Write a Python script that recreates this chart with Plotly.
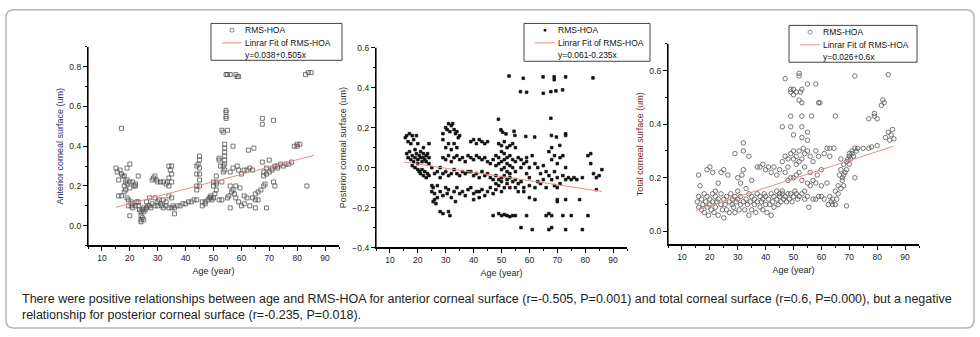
import plotly.graph_objects as go

# ---------------- data ----------------
ant_age = [15,15.5,16,16,16.5,17,17,17.5,18,18,18,18.5,18.5,19,19,19,19,19.5,19.5,20,20,20,20,20.5,20.5,21,21,21,21.5,22,22,22.5,22,23,23,23,23.5,24,24,24,24,24.5,24.5,25,25,25,25.5,26,26,26.5,27,27,27.5,28,28,28.5,29,29,29,29.5,30,30,30,30.5,31,31,31.5,32,32,32,33,33,33,33.5,34,34,34,34,34,34.5,35,35,35,35,35,35.5,36,36,37,38,39,40,41,42,43,44,44,44,44,44,44.5,45,45,45,45,45,45,46,46,47,47,48,48.5,49,49,49.5,50,50,50,50.5,51,51,51,51,52,52,52,52.5,53,53,53,53.5,53.5,53.5,54,54,54,54,54,54,54,54.5,54.5,54.5,54.5,54.5,55,55,55,55.5,56,56,56,56,56.5,57,57,57,57.5,58,58,58,58.5,58.5,59,59,59,59.5,60,60,61,61,61,62,62,62.5,63,63,64,64,64.5,65,65,65,66,66,67,67.5,67.5,67.5,68,68,68,68.5,69,69,69,70,70,71,71,71.5,71.5,72,72,73,73,74,75,76,77,78,79,80,80,81,83,84,85,83.5,17]
ant_val = [0.29,0.27,0.23,0.15,0.28,0.26,0.15,0.25,0.25,0.2,0.17,0.22,0.18,0.29,0.23,0.21,0.14,0.1,0.13,0.31,0.22,0.19,0.05,0.12,0.1,0.22,0.11,0.09,0.2,0.21,0.1,0.12,0.2,0.25,0.12,0.1,0.08,0.07,0.05,0.03,0.02,0.08,0.04,0.09,0.07,0.03,0.08,0.09,0.12,0.1,0.1,0.14,0.09,0.23,0.11,0.24,0.25,0.1,0.14,0.23,0.22,0.12,0.1,0.13,0.22,0.11,0.1,0.22,0.13,0.09,0.21,0.12,0.1,0.22,0.3,0.24,0.2,0.15,0.09,0.28,0.3,0.26,0.22,0.14,0.09,0.1,0.06,0.09,0.1,0.1,0.11,0.11,0.12,0.12,0.13,0.13,0.3,0.26,0.2,0.18,0.31,0.35,0.33,0.29,0.26,0.23,0.2,0.1,0.12,0.12,0.11,0.13,0.14,0.14,0.15,0.13,0.14,0.2,0.22,0.16,0.18,0.22,0.25,0.21,0.13,0.33,0.34,0.3,0.48,0.22,0.13,0.47,0.3,0.27,0.41,0.39,0.37,0.35,0.33,0.31,0.28,0.58,0.57,0.55,0.54,0.76,0.76,0.48,0.14,0.15,0.76,0.27,0.09,0.2,0.17,0.4,0.29,0.18,0.16,0.76,0.2,0.14,0.75,0.3,0.75,0.28,0.12,0.19,0.1,0.26,0.11,0.28,0.15,0.28,0.14,0.38,0.29,0.1,0.28,0.14,0.39,0.09,0.13,0.16,0.13,0.17,0.18,0.54,0.51,0.32,0.27,0.2,0.25,0.21,0.26,0.09,0.29,0.27,0.33,0.28,0.29,0.53,0.22,0.2,0.3,0.29,0.3,0.31,0.3,0.31,0.31,0.32,0.4,0.4,0.41,0.41,0.76,0.77,0.77,0.2,0.49]

post_age = [52.7,57.8,64.9,68.9,68.9,73,82.8,56.8,59,65,67.7,69.5,71.9,48.9,67.7,49.8,50.4,51.6,54.5,54.8,58.7,61.9,67.9,69.7,73,73,70.9,
15.5,16,16.5,17,17.5,18,18.5,19.5,20,16,16.5,17,17.5,18,18.5,19,19,19.5,20,20,20.5,21,21,21.5,22,22,22.5,23,23,23.5,24,24,20,20.5,21,21.5,22,22.5,23,23.5,24,25,25,25.5,26,26,26.5,25.5,27,27,24,22,18,19,25,26,27,28,28,29,30,31,32,33,34,35,36,37,38,29,29,30,30.5,31,31.5,32,32.5,33,33.5,34,34.5,35,30,31,32,33,34,29,30,31,32,33,34,35,36,37,28,29,30,30.5,31,32,33,33.5,34,35,36,37,38,28,29,31,31.5,
39,40,41,42,43,44,45,38,39,40,41,42,43,44,45,39,40,41,42,43,44,45,46,39,40,41,42,43,44,45,46,47,40,42,
46,47,48,48,49,49,50,50,50,51,51,51,52,52,52,53,53,53,54,54,55,55,56,47,48,48,49,49,50,50,51,51,52,52,53,53,54,55,55,56,57,58,48,50,49,50,51,52,53,54,55,47,49,50,51,52,53,54,55,57,58,59,59,60,60,61,62,62,63,63,64,65,65,66,67,67,68,68,68,69,69,69,70,70,70,71,71,72,72,73,73,74,75,76,77,79,81,82,82,83,84,85,86,84,57,59,61,62,60,66,67,67,68,68,70,70,72,73,73,75,78,79,81,64,66,60,58,59,56,57]
post_val = [0.458,0.447,0.454,0.454,0.44,0.454,0.449,0.38,0.377,0.372,0.38,0.384,0.389,0.242,0.247,0.189,0.177,0.169,0.182,0.161,0.156,0.153,0.161,0.153,0.169,0.161,0.111,
0.15,0.16,0.13,0.17,0.12,0.16,0.14,0.16,0.12,0.07,0.05,0.08,0.04,0.06,0.03,0.09,0.05,0.07,0.04,0.02,0.06,0.05,0.08,0.03,0.05,0.07,0.04,0.06,0.03,0.07,0.05,0.02,-0.01,-0.02,-0.03,-0.01,-0.04,-0.02,-0.05,-0.03,-0.04,-0.09,-0.12,-0.1,-0.13,-0.16,-0.18,-0.17,-0.15,-0.09,0.12,0.1,0.01,0.0,0.0,-0.03,-0.02,0.0,-0.05,-0.03,-0.02,-0.04,-0.03,-0.01,-0.03,-0.04,-0.02,-0.03,-0.02,0.17,0.14,0.2,0.19,0.22,0.18,0.21,0.22,0.19,0.17,0.18,0.15,0.16,0.1,0.12,0.09,0.12,0.1,0.05,0.04,0.06,0.03,0.05,0.06,0.04,0.05,0.03,-0.12,-0.14,-0.1,-0.13,-0.11,-0.15,-0.12,-0.17,-0.1,-0.13,-0.12,-0.14,-0.11,-0.22,-0.23,-0.22,-0.24,
0.13,0.14,0.12,0.14,0.13,0.12,0.13,0.06,0.05,0.04,0.06,0.05,0.04,0.05,0.03,-0.02,-0.04,-0.03,-0.05,-0.02,-0.04,-0.03,-0.05,-0.1,-0.13,-0.12,-0.15,-0.11,-0.14,-0.12,-0.1,-0.13,-0.16,-0.12,
0.02,0.04,0.01,0.06,0.05,0.02,0.03,0.08,-0.01,0.04,0.07,0.0,0.02,0.05,-0.02,0.06,0.01,-0.03,0.04,0.0,0.03,-0.02,0.05,-0.06,-0.04,-0.08,-0.06,-0.09,-0.05,-0.07,-0.04,-0.1,-0.06,-0.08,-0.05,-0.1,-0.07,-0.06,-0.1,-0.08,-0.07,-0.1,-0.11,-0.12,0.12,0.11,0.13,0.1,0.11,0.12,0.1,-0.24,-0.23,-0.24,-0.235,-0.24,-0.245,-0.24,-0.24,0.0,0.02,0.03,-0.03,0.0,-0.05,0.06,0.02,-0.1,0.0,-0.07,-0.03,0.01,-0.06,-0.02,-0.04,0.08,0.04,-0.06,0.1,-0.02,0.06,-0.09,-0.05,0.02,-0.1,-0.08,0.05,-0.04,0.06,0.0,-0.06,-0.05,-0.06,-0.05,-0.06,-0.05,0.06,0.07,0.02,-0.03,-0.05,-0.04,-0.01,-0.11,-0.3,-0.24,-0.31,-0.16,-0.15,-0.24,-0.23,-0.31,-0.3,-0.24,-0.16,-0.17,-0.24,-0.16,-0.31,-0.24,-0.16,-0.31,-0.24,-0.08,-0.1,-0.09,-0.12,0.05,-0.12,0.04]

tot_age = [15.5,16,16,16,16.5,17,17,17.5,18,18,18.5,19,19,19,19.5,20,20,20,20.5,21,21,21,21.5,22,22,22,22.5,23,23,23,24,24,24,24.5,25,25,25,25.5,26,26,26.5,27,27,27.5,28,28,28.5,29,29,29,29.5,30,30,30,30.5,31,31,31,31.5,32,32,32,32,32.5,33,33,33.5,34,34,34,34.5,35,35,35,36,36,36.5,37,37,37,38,38,38,38.5,39,39,39,39.5,40,40,40,40.5,41,41,41.5,42,42,42,42.5,43,43,43,44,44,44,44.5,45,45,45,45.5,46,46,46,46,46.5,47,47,47,47,47.5,48,48,48,48,48.5,49,49,49,49,49,49,49,49.5,50,50,50,50,50,50,50,50.5,51,51,51,51,51,51.5,52,52,52,52,52,52,52,52.5,53,53,53,53,53,53,53,53,53.5,54,54,54,54,55,55,55,55,55,55,55.5,56,56,56,56.5,57,57,57,58,58,58,58,58.5,59,59,59,59.5,60,60,60,61,61,62,62,62.5,63,63,63,63.5,64,64,64.5,65,65,65,65.5,66,66,66.5,67,67,67,67.5,67.5,68,68,68,68.5,69,69,69,69.5,70,70,70,70.5,71,71,71.5,72,72,72,72.5,73,75,77,77,78,79,79,80,80,81.5,82,82.5,84,83,84,84.5,85,85.5,86]
tot_val = [0.11,0.21,0.13,0.09,0.17,0.12,0.08,0.1,0.14,0.07,0.11,0.09,0.13,0.23,0.06,0.12,0.1,0.24,0.08,0.14,0.11,0.22,0.07,0.13,0.09,0.15,0.11,0.12,0.06,0.18,0.1,0.14,0.22,0.08,0.12,0.23,0.05,0.1,0.13,0.08,0.21,0.11,0.07,0.14,0.1,0.12,0.09,0.13,0.07,0.29,0.11,0.12,0.15,0.2,0.08,0.1,0.13,0.18,0.21,0.11,0.33,0.3,0.23,0.08,0.12,0.16,0.1,0.14,0.28,0.06,0.11,0.13,0.08,0.19,0.12,0.1,0.07,0.14,0.24,0.11,0.09,0.13,0.24,0.11,0.12,0.25,0.08,0.14,0.1,0.13,0.23,0.07,0.12,0.24,0.1,0.14,0.06,0.22,0.11,0.13,0.09,0.24,0.12,0.21,0.15,0.1,0.13,0.14,0.23,0.11,0.15,0.26,0.39,0.14,0.12,0.57,0.13,0.22,0.28,0.11,0.14,0.19,0.27,0.24,0.12,0.43,0.39,0.53,0.52,0.29,0.14,0.2,0.11,0.53,0.51,0.36,0.3,0.27,0.2,0.13,0.15,0.52,0.28,0.25,0.21,0.14,0.12,0.59,0.58,0.49,0.3,0.26,0.22,0.13,0.52,0.53,0.48,0.43,0.39,0.35,0.27,0.19,0.14,0.31,0.29,0.24,0.15,0.12,0.55,0.37,0.34,0.3,0.18,0.13,0.09,0.22,0.28,0.17,0.43,0.26,0.19,0.12,0.55,0.3,0.18,0.12,0.21,0.48,0.28,0.13,0.48,0.23,0.17,0.13,0.29,0.12,0.31,0.18,0.1,0.28,0.31,0.13,0.11,0.1,0.12,0.31,0.43,0.15,0.1,0.12,0.14,0.17,0.21,0.16,0.23,0.27,0.19,0.2,0.21,0.25,0.17,0.22,0.095,0.26,0.23,0.27,0.25,0.28,0.29,0.27,0.29,0.3,0.28,0.31,0.2,0.58,0.3,0.31,0.31,0.42,0.31,0.315,0.44,0.43,0.32,0.42,0.47,0.49,0.48,0.585,0.35,0.37,0.34,0.36,0.38,0.345]

fit_age = [15, 86]
fit_ant = [0.093, 0.354]
fit_post = [0.028, -0.119]
fit_tot = [0.078, 0.318]

legend_labels = [
    ["RMS-HOA", "Linrar Fit of RMS-HOA", "y=0.038+0.505x"],
    ["RMS-HOA", "Linrar Fit of RMS-HOA", "y=0.061-0.235x"],
    ["RMS-HOA", "Linrar Fit of RMS-HOA", "y=0.026+0.6x"],
]
y_titles = ["Anterior corneal surface (um)", "Posterior corneal surface (um)", "Total corneal surface (um)"]
x_title = "Age (year)"
x_ticks = [10, 20, 30, 40, 50, 60, 70, 80, 90]
caption = ("There were positive relationships between age and RMS-HOA for anterior corneal surface (r=-0.505, P=0.001) "
           "and total corneal surface (r=0.6, P=0.000), but a negative<br>relationship for posterior corneal surface (r=-0.235, P=0.018).")

# ---------------- figure ----------------
W, H = 980, 337
def px(x): return x / W
def py(y): return 1 - y / H

FONT = "Liberation Sans, Arial, sans-serif"
RED = "#f08a8a"
fig = go.Figure()

panels = [
    dict(x=ant_age, y=ant_val, fit=fit_ant, sym="square-open", size=4, col="#555555"),
    dict(x=post_age, y=post_val, fit=fit_post, sym="square", size=2.6, col="#111111"),
    dict(x=tot_age, y=tot_val, fit=fit_tot, sym="circle-open", size=4.5, col="#555555"),
]
for i, p in enumerate(panels):
    sfx = "" if i == 0 else str(i + 1)
    fig.add_trace(go.Scatter(x=p["x"], y=p["y"], mode="markers", name="RMS-HOA",
                             marker=dict(symbol=p["sym"], size=p["size"], color=p["col"],
                                         line=dict(width=0.8, color=p["col"])),
                             xaxis="x" + sfx, yaxis="y" + sfx, showlegend=False))
    fig.add_trace(go.Scatter(x=fit_age, y=p["fit"], mode="lines", name="Linrar Fit of RMS-HOA",
                             line=dict(color=RED, width=1), xaxis="x" + sfx, yaxis="y" + sfx,
                             showlegend=False))

axis_common = dict(showline=True, linecolor="#000", linewidth=1.3, ticks="outside", ticklen=4,
                   tickwidth=1, tickcolor="#000", showgrid=False, zeroline=False, mirror=False,
                   layer="above traces",
                   tickfont=dict(family=FONT, size=8.5, color="#222"))

# pixel geometry of the three axes boxes (left, right, top, bottom)
boxes = [(88, 339, 43, 248), (376, 627, 44, 250), (668, 919, 40, 247)]
yranges = [[-0.1, 0.9], [-0.4, 0.6], [-0.05, 0.7]]
ytickvals = [[0.0, 0.2, 0.4, 0.6, 0.8], [-0.4, -0.2, 0.0, 0.2, 0.4, 0.6], [0.0, 0.2, 0.4, 0.6]]
ycolors = ["#22316b", "#3b2b2b", "#7a1f1f"]

shapes = []
annotations = []

layout = {}
for i, (l, r, t, b) in enumerate(boxes):
    sfx = "" if i == 0 else str(i + 1)
    xa = dict(axis_common)
    xa.update(domain=[px(l), px(r)], range=[5, 95], tickvals=x_ticks, anchor="y" + sfx,
              minor=dict(ticks="outside", ticklen=2, tickcolor="#000", dtick=5, tick0=5),
              title=dict(text=x_title, font=dict(family=FONT, size=9, color="#222"), standoff=5))
    ya = dict(axis_common)
    ya.update(domain=[py(b), py(t)], range=yranges[i], tickvals=ytickvals[i], anchor="x" + sfx,
              tickformat=".1f",
              minor=dict(ticks="outside", ticklen=2, tickcolor="#000", dtick=0.1, tick0=0),
              title=dict(text=y_titles[i], font=dict(family=FONT, size=9, color=ycolors[i]), standoff=4))
    layout["xaxis" + sfx] = xa
    layout["yaxis" + sfx] = ya
    # explicit axis spines (bottom and left) so they are always drawn
    shapes.append(dict(type="line", xref="x" + sfx + " domain", yref="y" + sfx + " domain",
                       x0=0, x1=1, y0=0, y1=0, line=dict(color="#000", width=1.2), layer="above"))
    shapes.append(dict(type="line", xref="x" + sfx + " domain", yref="y" + sfx + " domain",
                       x0=0, x1=0, y0=0, y1=1, line=dict(color="#000", width=1.2), layer="above"))

# rounded outer frame
r = 8
x0, x1, y0, y1 = 6, 974, 5, 333
path = (f"M {px(x0+r)},{py(y0)} L {px(x1-r)},{py(y0)} Q {px(x1)},{py(y0)} {px(x1)},{py(y0+r)} "
        f"L {px(x1)},{py(y1-r)} Q {px(x1)},{py(y1)} {px(x1-r)},{py(y1)} "
        f"L {px(x0+r)},{py(y1)} Q {px(x0)},{py(y1)} {px(x0)},{py(y1-r)} "
        f"L {px(x0)},{py(y0+r)} Q {px(x0)},{py(y0)} {px(x0+r)},{py(y0)} Z")
shapes.append(dict(type="path", path=path, xref="paper", yref="paper",
                   line=dict(color="#b5b5b5", width=1.5)))

# legends (box, symbol, line, text)
leg_boxes = [(211, 342, 19, 57), (524, 650, 19, 58), (789, 917, 21, 59)]
for i, (l, rr, t, b) in enumerate(leg_boxes):
    shapes.append(dict(type="rect", xref="paper", yref="paper", x0=px(l), x1=px(rr), y0=py(b), y1=py(t),
                       line=dict(color="#444", width=1), fillcolor="white", layer="above"))
    rows = [t + 7, t + 20, t + 33]
    lx0, lx1 = l + 11, l + 31
    mx = (lx0 + lx1) / 2
    s = 1.8
    if i == 1:
        shapes.append(dict(type="rect", xref="paper", yref="paper", x0=px(mx - 1.3), x1=px(mx + 1.3),
                           y0=py(rows[0] + 1.3), y1=py(rows[0] - 1.3), fillcolor="#111",
                           line=dict(width=0)))
    elif i == 0:
        shapes.append(dict(type="rect", xref="paper", yref="paper", x0=px(mx - s), x1=px(mx + s),
                           y0=py(rows[0] + s), y1=py(rows[0] - s), line=dict(color="#777", width=0.8)))
    else:
        shapes.append(dict(type="circle", xref="paper", yref="paper", x0=px(mx - 2), x1=px(mx + 2),
                           y0=py(rows[0] + 2), y1=py(rows[0] - 2), line=dict(color="#777", width=0.8)))
    shapes.append(dict(type="line", xref="paper", yref="paper", x0=px(lx0), x1=px(lx1),
                       y0=py(rows[1]), y1=py(rows[1]), line=dict(color=RED, width=1)))
    for k, txt in enumerate(legend_labels[i]):
        annotations.append(dict(text=txt, xref="paper", yref="paper", x=px(lx1 + 1), y=py(rows[k]),
                                xanchor="left", yanchor="middle", showarrow=False,
                                font=dict(family=FONT, size=8.5, color="#111")))

annotations.append(dict(text=caption, xref="paper", yref="paper", x=px(20), y=py(294),
                        xanchor="left", yanchor="top", align="left", showarrow=False,
                        font=dict(family=FONT, size=12.5, color="#222")))

fig.update_layout(width=W, height=H, margin=dict(l=0, r=0, t=0, b=0),
                  paper_bgcolor="white", plot_bgcolor="white", showlegend=False,
                  shapes=shapes, annotations=annotations, **layout)

fig.write_html("out.html", config={"displayModeBar": False},
               post_script="document.body.style.margin='0';document.body.style.overflow='hidden';")
